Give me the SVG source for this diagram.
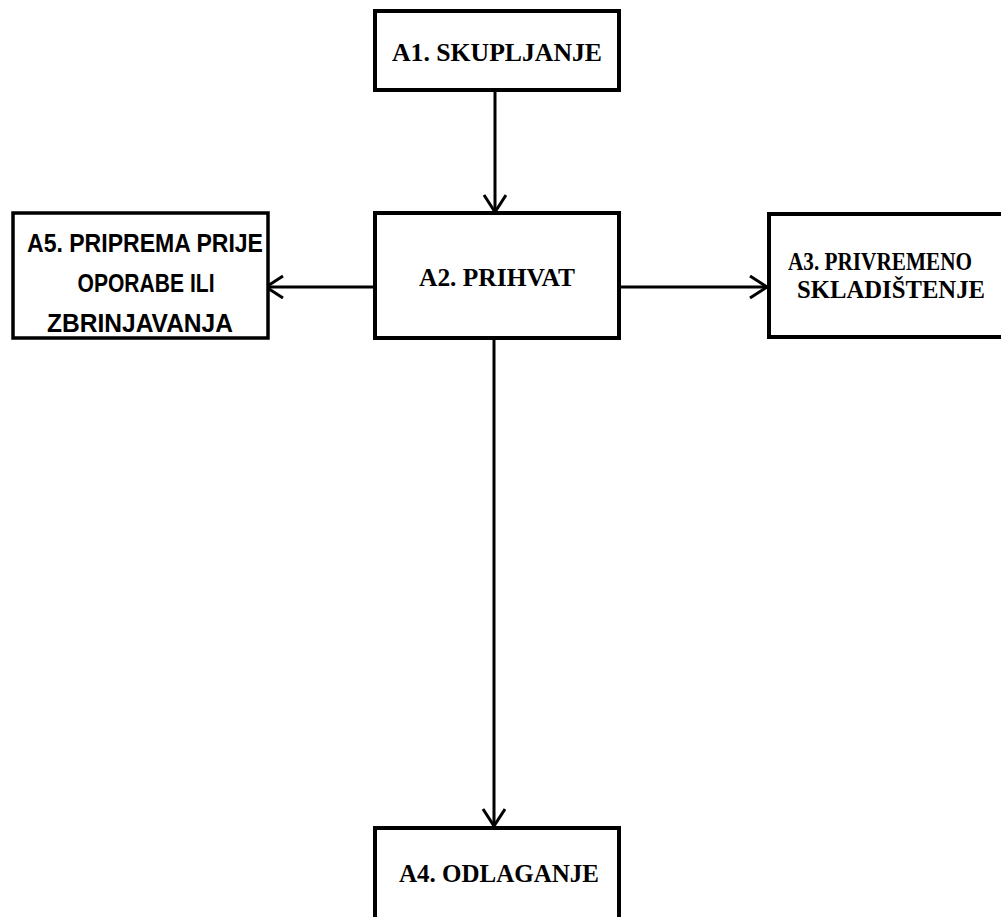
<svg xmlns="http://www.w3.org/2000/svg" width="1001" height="917" viewBox="0 0 1001 917">
<style>
.box{fill:#fff;stroke:#000;stroke-width:4}
.serif{font-family:"Liberation Serif","Times New Roman",serif;font-weight:bold;fill:#000;text-anchor:middle}
.sans{font-family:"Liberation Sans",Arial,sans-serif;font-weight:bold;fill:#000;text-anchor:middle}
.conn{stroke:#000;stroke-width:3;fill:none}
</style>
<defs>
<marker id="arr" markerUnits="userSpaceOnUse" markerWidth="30" markerHeight="30" refX="20" refY="12" orient="auto">
<polyline points="3,1 20,12 3,23" fill="none" stroke="#000" stroke-width="3"/>
</marker>
</defs>
<rect width="1001" height="917" fill="#fff"/>
<g id="connectors">
<line class="conn" x1="495" y1="90" x2="495" y2="212" marker-end="url(#arr)"/>
<line class="conn" x1="494" y1="338" x2="494" y2="826" marker-end="url(#arr)"/>
<line class="conn" x1="375" y1="287" x2="266" y2="287" marker-end="url(#arr)"/>
<line class="conn" x1="619" y1="287" x2="767" y2="287" marker-end="url(#arr)"/>
</g>
<g id="A1">
<rect class="box" x="375" y="11" width="244" height="79"/>
<text class="serif" x="497" y="61" font-size="26" textLength="210" lengthAdjust="spacingAndGlyphs">A1. SKUPLJANJE</text>
</g>
<g id="A2">
<rect class="box" x="375" y="213" width="244" height="125"/>
<text class="serif" x="497" y="286" font-size="26" textLength="156" lengthAdjust="spacingAndGlyphs">A2. PRIHVAT</text>
</g>
<g id="A3">
<rect class="box" x="769" y="214" width="236" height="123"/>
<text class="serif" x="880" y="270" font-size="26" textLength="184" lengthAdjust="spacingAndGlyphs">A3. PRIVREMENO</text>
<text class="serif" x="891" y="298" font-size="26" textLength="188" lengthAdjust="spacingAndGlyphs">SKLADIŠTENJE</text>
</g>
<g id="A4">
<rect class="box" x="375" y="828" width="244" height="95"/>
<text class="serif" x="499" y="882" font-size="26" textLength="200" lengthAdjust="spacingAndGlyphs">A4. ODLAGANJE</text>
</g>
<g id="A5">
<rect class="box" x="13" y="213" width="255" height="125" style="stroke-width:3.5"/>
<text class="sans" x="145" y="252" font-size="25" textLength="236" lengthAdjust="spacingAndGlyphs">A5. PRIPREMA PRIJE</text>
<text class="sans" x="146" y="292" font-size="25" textLength="137" lengthAdjust="spacingAndGlyphs">OPORABE ILI</text>
<text class="sans" x="140" y="332" font-size="25" textLength="186" lengthAdjust="spacingAndGlyphs">ZBRINJAVANJA</text>
</g>
</svg>
